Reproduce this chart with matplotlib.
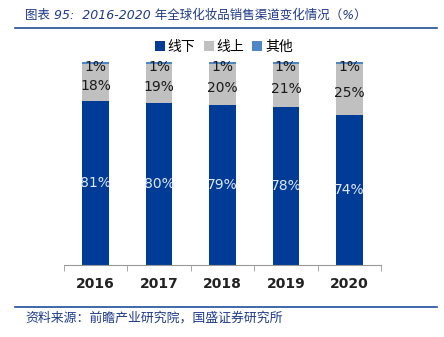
import matplotlib
matplotlib.use("Agg")
import matplotlib.pyplot as plt
import numpy as np

years = ["2016", "2017", "2018", "2019", "2020"]
offline = [81, 80, 79, 78, 74]
online = [18, 19, 20, 21, 25]
other = [1, 1, 1, 1, 1]
series_names = ["线下", "线上", "其他"]

plt.rcParams['font.family'] = ['Noto Sans CJK SC', 'DejaVu Sans']

c_off = "#003c96"
c_on = "#c0c0c0"
c_oth = "#4f86c6"
title_c = "#1f3a8a"

fig = plt.figure(figsize=(4.44, 3.37), dpi=100)
ax = fig.add_axes([64/444, (337-265)/337, (381-64)/444, 203/337])

x = np.arange(len(years))
w = 0.42
b1 = ax.bar(x, offline, w, color=c_off, label=series_names[0])
b2 = ax.bar(x, online, w, bottom=offline, color=c_on, label=series_names[1])
bot3 = [a + b for a, b in zip(offline, online)]
b3 = ax.bar(x, other, w, bottom=bot3, color=c_oth, label=series_names[2])

for i in range(len(years)):
    ax.text(x[i], offline[i] / 2, f"{offline[i]}%", ha="center", va="center",
            color="#dfe6f3", fontsize=10, family=['DejaVu Sans'])
    ax.text(x[i], offline[i] + online[i] / 2 - 2, f"{online[i]}%", ha="center", va="center",
            color="#1a1a1a", fontsize=10, family=['DejaVu Sans'])
    ax.text(x[i], bot3[i] + other[i] / 2 - 2, f"{other[i]}%", ha="center", va="center",
            color="#1a1a1a", fontsize=10, family=['DejaVu Sans'])

ax.set_xlim(-0.5, len(years) - 0.5)
ax.set_ylim(0, 100)
for s in ["top", "right", "left"]:
    ax.spines[s].set_visible(False)
ax.spines["bottom"].set_color("#999999")
ax.set_yticks([])
ax.set_xticks(x)
ax.set_xticklabels(years, fontsize=10, fontweight="bold", family=['DejaVu Sans'], color="#222222")
ax.tick_params(axis="x", which="major", length=0, pad=9)
ax.set_xticks(np.arange(-0.5, len(years)), minor=True)
ax.tick_params(axis="x", which="minor", length=4, color="#999999", direction="out")

leg = fig.legend(handles=[b1, b2, b3], labels=series_names, loc="center",
                 bbox_to_anchor=(224/444, 1 - 47/337), ncol=3, frameon=False,
                 fontsize=10, handlelength=0.7, handleheight=0.7, handletextpad=0.2,
                 columnspacing=0.6)

fig.text(25/444, 1 - 15/337, "图表 95:  2016-2020 年全球化妆品销售渠道变化情况（%）",
         color=title_c, fontsize=9, style="italic", va="center", ha="left",
         family=['DejaVu Sans', 'Noto Sans CJK SC'])
fig.add_artist(plt.Line2D([15/444, 437/444], [1 - 28/337, 1 - 28/337], color="#1f4e9a", lw=1.2))
fig.add_artist(plt.Line2D([15/444, 437/444], [1 - 307/337, 1 - 307/337], color="#1f4e9a", lw=1.2))
fig.text(25/444, 1 - 318/337, "资料来源：前瞻产业研究院，国盛证券研究所",
         color=title_c, fontsize=9.3, style="italic", va="center", ha="left",
         family=['Noto Sans CJK SC', 'DejaVu Sans'])

fig.savefig("out.png", dpi=100)
